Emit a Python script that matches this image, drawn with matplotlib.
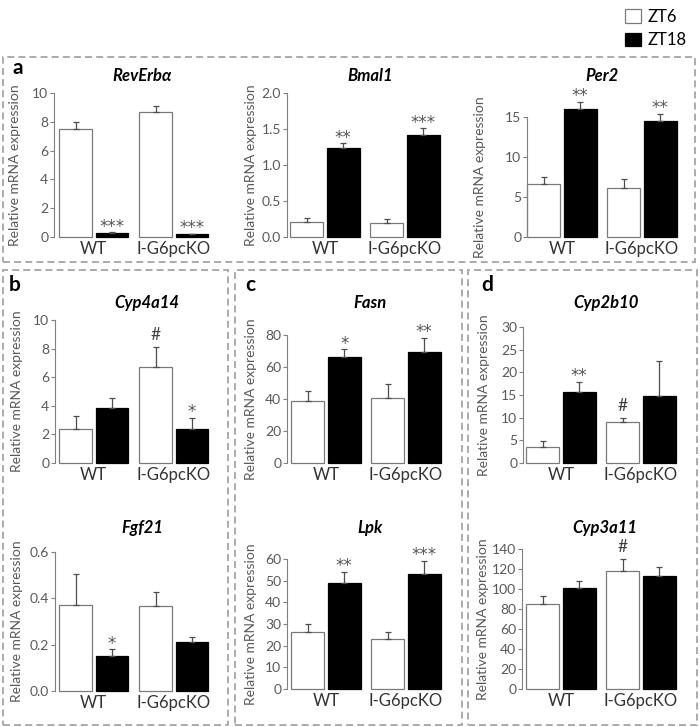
import matplotlib
matplotlib.use('Agg')
import matplotlib.pyplot as plt
from matplotlib.patches import Rectangle
import numpy as np

plt.rcParams['font.family'] = ['Lato', 'DejaVu Sans']
plt.rcParams['lines.scale_dashes'] = False

# data: mean and SEM per gene
genes = ['RevErbα', 'Bmal1', 'Per2', 'Cyp4a14', 'Fasn', 'Cyp2b10', 'Fgf21', 'Lpk', 'Cyp3a11']
groups = ['WT', 'I-G6pcKO']

wt_zt6 = [7.49, 0.21, 6.58, 2.41, 38.9, 3.5, 0.371, 26.2, 85.0]
wt_zt6_err = [0.49, 0.06, 0.96, 0.86, 5.8, 1.3, 0.134, 3.6, 8.3]
wt_zt18 = [0.28, 1.24, 16.04, 3.88, 66.5, 15.7, 0.153, 49.1, 100.7]
wt_zt18_err = [0.05, 0.06, 0.86, 0.68, 4.6, 2.2, 0.028, 5.1, 7.0]
ko_zt6 = [8.67, 0.19, 6.16, 6.68, 40.5, 9.0, 0.367, 23.1, 118.0]
ko_zt6_err = [0.45, 0.06, 1.09, 1.45, 9.0, 0.96, 0.062, 3.4, 11.7]
ko_zt18 = [0.20, 1.41, 14.45, 2.41, 69.2, 14.8, 0.213, 53.2, 112.7]
ko_zt18_err = [0.03, 0.10, 0.95, 0.74, 9.0, 7.6, 0.019, 6.0, 9.0]

wt_zt18_mark = ['***', '**', '**', '', '*', '**', '*', '**', '']
ko_zt6_mark = ['', '', '', '#', '', '#', '', '', '#']
ko_zt18_mark = ['***', '***', '**', '*', '**', '', '', '***', '']

y_max = [10, 2.0, 15, 10, 80, 30, 0.6, 60, 140]
y_step = [2, 0.5, 5, 2, 20, 5, 0.2, 10, 20]

# layout in pixels: axis x, y of zero, y of top tick, WT group centre, title x, title y, ylabel x
layout = [
    (54, 237, 93, 93.75, 142, 76, 15),
    (287, 237, 93, 325, 370, 76, 251),
    (527, 237, 117, 562, 602, 76, 480),
    (55, 463, 320, 93.75, 147, 303, 17),
    (287, 463, 335, 326, 370, 303, 251),
    (523, 463, 327, 561, 606, 303, 484),
    (55, 691, 552, 93.75, 142, 528, 17),
    (287, 689, 559, 326, 370, 528, 251),
    (522, 689, 549, 561, 605, 528, 483),
]

W, H = 700, 727
fig = plt.figure(figsize=(7, 7.27), dpi=100)

def fx(px):
    return px / W

def fy(py):
    return 1 - py / H

grey = '#595959'
gap = 80.0
off = 0.228
bw = 0.41

handles = None
for i, g in enumerate(genes):
    ax_x, y0, yt, wc, tx, ty, lx = layout[i]
    ax = fig.add_axes([fx(ax_x), fy(y0), 156 / W, (y0 - yt) / H])
    left = -(wc - ax_x) / gap
    ax.set_xlim(left, left + 156 / gap)
    ax.set_ylim(0, y_max[i])

    x = np.arange(2)
    m6 = [wt_zt6[i], ko_zt6[i]]
    e6 = [wt_zt6_err[i], ko_zt6_err[i]]
    m18 = [wt_zt18[i], ko_zt18[i]]
    e18 = [wt_zt18_err[i], ko_zt18_err[i]]

    b6 = ax.bar(x - off, m6, bw, color='white', edgecolor='#7a7a7a', lw=0.9, clip_on=False)
    b18 = ax.bar(x + off, m18, bw, color='black', edgecolor='black', lw=0.9, clip_on=False)
    if handles is None:
        handles = [b6, b18]
    for xs, ms, es in [(x - off, m6, e6), (x + off, m18, e18)]:
        eb = ax.errorbar(xs, ms, yerr=[np.zeros(2), es], fmt='none', ecolor='#4d4d4d',
                         elinewidth=0.9, capsize=2.2, capthick=0.9)
        for a in eb.lines:
            for art in (a if isinstance(a, tuple) else [a]):
                if art is not None:
                    art.set_clip_on(False)

    marks = [(0 + off, wt_zt18[i] + wt_zt18_err[i], wt_zt18_mark[i]),
             (1 - off, ko_zt6[i] + ko_zt6_err[i], ko_zt6_mark[i]),
             (1 + off, ko_zt18[i] + ko_zt18_err[i], ko_zt18_mark[i])]
    for mx, my, mk in marks:
        if not mk:
            continue
        if mk == '#':
            ax.annotate(mk, (mx, my), xytext=(0, 8.5), textcoords='offset points',
                        ha='center', va='center', fontsize=12.5, color='#404040',
                        annotation_clip=False)
        else:
            ax.annotate(mk, (mx, my), xytext=(0, 4), textcoords='offset points',
                        ha='center', va='center', fontsize=12, color='#555555',
                        family='DejaVu Sans', annotation_clip=False)

    ticks = np.arange(0, y_max[i] + y_step[i] / 2, y_step[i])
    ax.set_yticks(ticks)
    if y_step[i] < 1:
        ax.set_yticklabels(['%.1f' % t for t in ticks])
    else:
        ax.set_yticklabels(['%d' % t for t in ticks])
    ax.set_xticks(x)
    ax.set_xticklabels(groups, fontsize=12, color='#333333')
    ax.tick_params(axis='x', length=0, pad=3)
    ax.tick_params(axis='y', direction='out', length=3, width=0.8, color='#808080',
                   labelsize=10, labelcolor=grey, pad=1.2)
    for s in ['top', 'right', 'bottom']:
        ax.spines[s].set_visible(False)
    ax.spines['left'].set_color('#808080')
    ax.spines['left'].set_linewidth(0.8)
    ax.patch.set_visible(False)

    fig.text(fx(tx), fy(ty), g, ha='center', va='center', fontsize=12,
             fontweight='bold', fontstyle='italic')
    fig.text(fx(lx), fy((y0 + yt) / 2), 'Relative mRNA expression', rotation=90,
             ha='center', va='center', fontsize=10, color=grey)

# panel letters
for lbl, px, py in [('a', 18, 68), ('b', 15, 285), ('c', 250, 285), ('d', 487, 285)]:
    fig.text(fx(px), fy(py), lbl, ha='center', va='center', fontsize=15, fontweight='bold')

# dashed panel frames
for x0, y0, x1, y1 in [(3, 57, 695, 262), (3, 270, 228, 725), (235, 270, 462, 725), (468, 270, 697, 725)]:
    fig.add_artist(Rectangle((fx(x0), fy(y1)), fx(x1) - fx(x0), fy(y0) - fy(y1), fill=False,
                             edgecolor='#ababab', lw=1.4, linestyle=(0, (5, 3)),
                             transform=fig.transFigure))

fig.legend(handles=handles, labels=['ZT6', 'ZT18'], loc='upper left',
           bbox_to_anchor=(fx(618), fy(2)), frameon=False, fontsize=12,
           handlelength=1.0, handleheight=0.85, handletextpad=0.4, labelspacing=0.45,
           borderaxespad=0)

fig.savefig('out.png', dpi=100)
